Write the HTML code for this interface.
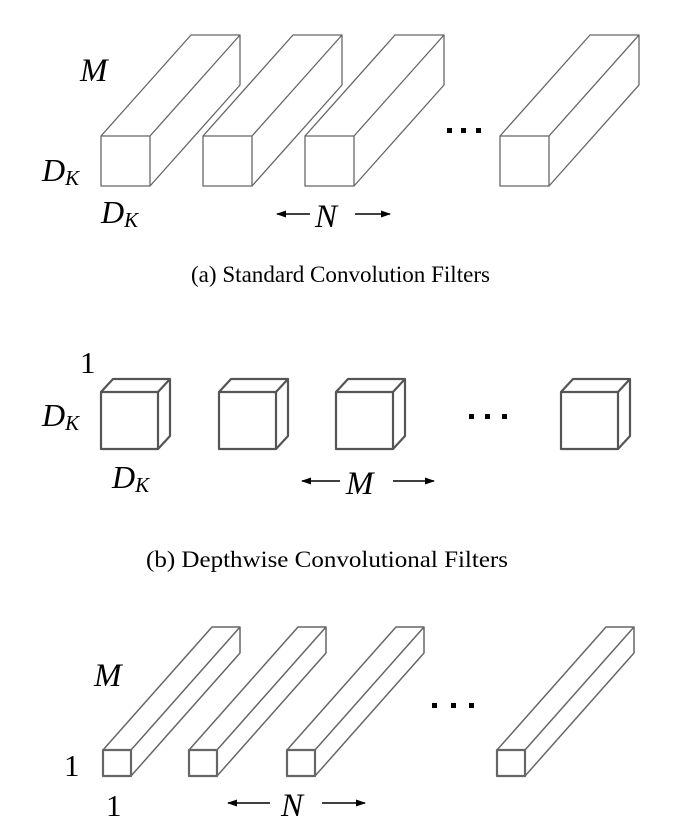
<!DOCTYPE html>
<html><head><style>body{margin:0;background:#fff}svg{display:block}</style></head><body>
<svg width="698" height="839" viewBox="0 0 698 839" xmlns="http://www.w3.org/2000/svg">
<defs><marker id="ah" markerWidth="10" markerHeight="7" refX="9" refY="3.5" orient="auto" markerUnits="userSpaceOnUse"><path d="M0,0 L10,3.5 L0,7 Z" fill="#000"/></marker></defs>
<g fill="none" stroke="#666" stroke-width="1.3" stroke-linejoin="round">
<g><rect x="101" y="136" width="49" height="50"/><path d="M101,136 L191,35 L240,35 L240,85 L150,186 M150,136 L240,35"/></g>
<g transform="translate(102,0)"><rect x="101" y="136" width="49" height="50"/><path d="M101,136 L191,35 L240,35 L240,85 L150,186 M150,136 L240,35"/></g>
<g transform="translate(204,0)"><rect x="101" y="136" width="49" height="50"/><path d="M101,136 L191,35 L240,35 L240,85 L150,186 M150,136 L240,35"/></g>
<g transform="translate(399,0)"><rect x="101" y="136" width="49" height="50"/><path d="M101,136 L191,35 L240,35 L240,85 L150,186 M150,136 L240,35"/></g>
</g>
<g fill="none" stroke="#555" stroke-width="2.2" stroke-linejoin="round">
<g><rect x="101" y="392" width="57" height="57"/><path d="M101,392 L113,379 L170,379 L170,436 L158,449 M158,392 L170,379"/></g>
<g transform="translate(118,0)"><rect x="101" y="392" width="57" height="57"/><path d="M101,392 L113,379 L170,379 L170,436 L158,449 M158,392 L170,379"/></g>
<g transform="translate(235,0)"><rect x="101" y="392" width="57" height="57"/><path d="M101,392 L113,379 L170,379 L170,436 L158,449 M158,392 L170,379"/></g>
<g transform="translate(460,0)"><rect x="101" y="392" width="57" height="57"/><path d="M101,392 L113,379 L170,379 L170,436 L158,449 M158,392 L170,379"/></g>
</g>
<g fill="none" stroke="#666" stroke-width="1.5" stroke-linejoin="round">
<g><rect x="103" y="750" width="28" height="26" stroke-width="2.2"/><path d="M103,750 L212,627 L240,627 L240,653 L131,776 M131,750 L240,627"/></g>
<g transform="translate(86,0)"><rect x="103" y="750" width="28" height="26" stroke-width="2.2"/><path d="M103,750 L212,627 L240,627 L240,653 L131,776 M131,750 L240,627"/></g>
<g transform="translate(184,0)"><rect x="103" y="750" width="28" height="26" stroke-width="2.2"/><path d="M103,750 L212,627 L240,627 L240,653 L131,776 M131,750 L240,627"/></g>
<g transform="translate(394,0)"><rect x="103" y="750" width="28" height="26" stroke-width="2.2"/><path d="M103,750 L212,627 L240,627 L240,653 L131,776 M131,750 L240,627"/></g>
</g>
<g fill="#000">
<rect x="447" y="128" width="5" height="5"/><rect x="461" y="128" width="5" height="5"/><rect x="476" y="128" width="5" height="5"/>
<rect x="469" y="414" width="5" height="5"/><rect x="485" y="414" width="5" height="5"/><rect x="502" y="414" width="5" height="5"/>
<rect x="432" y="703" width="5" height="5"/><rect x="451" y="703" width="5" height="5"/><rect x="469" y="703" width="5" height="5"/>
</g>
<g stroke="#000" stroke-width="1.6" marker-end="url(#ah)">
<line x1="310" y1="214" x2="277" y2="214"/><line x1="355" y1="214" x2="390" y2="214"/>
<line x1="340" y1="481" x2="302" y2="481"/><line x1="393" y1="481" x2="434" y2="481"/>
<line x1="270" y1="803" x2="228" y2="803"/><line x1="322" y1="803" x2="365" y2="803"/>
</g>
<g font-family="'Liberation Serif', serif" font-style="italic" fill="#000">
<text x="80" y="81" font-size="33">M</text>
<text x="42" y="181" font-size="32">D<tspan font-size="21" dy="4">K</tspan></text>
<text x="101" y="223" font-size="32">D<tspan font-size="21" dy="4">K</tspan></text>
<text x="315" y="227" font-size="33">N</text>
<text x="42" y="426" font-size="32">D<tspan font-size="21" dy="4">K</tspan></text>
<text x="112" y="488" font-size="32">D<tspan font-size="21" dy="4">K</tspan></text>
<text x="346" y="494" font-size="33">M</text>
<text x="94" y="686" font-size="33">M</text>
<text x="281" y="816" font-size="33">N</text>
</g>
<g font-family="'Liberation Serif', serif" fill="#000" font-size="31">
<text x="80" y="373">1</text>
<text x="64" y="776">1</text>
<text x="106" y="816">1</text>
</g>
<g font-family="'Liberation Serif', serif" fill="#000" font-size="23">
<text x="191" y="282" textLength="299" lengthAdjust="spacingAndGlyphs">(a)  Standard Convolution Filters</text>
<text x="146" y="567" textLength="362" lengthAdjust="spacingAndGlyphs">(b)  Depthwise Convolutional Filters</text>
</g>
</svg>
</body></html>
